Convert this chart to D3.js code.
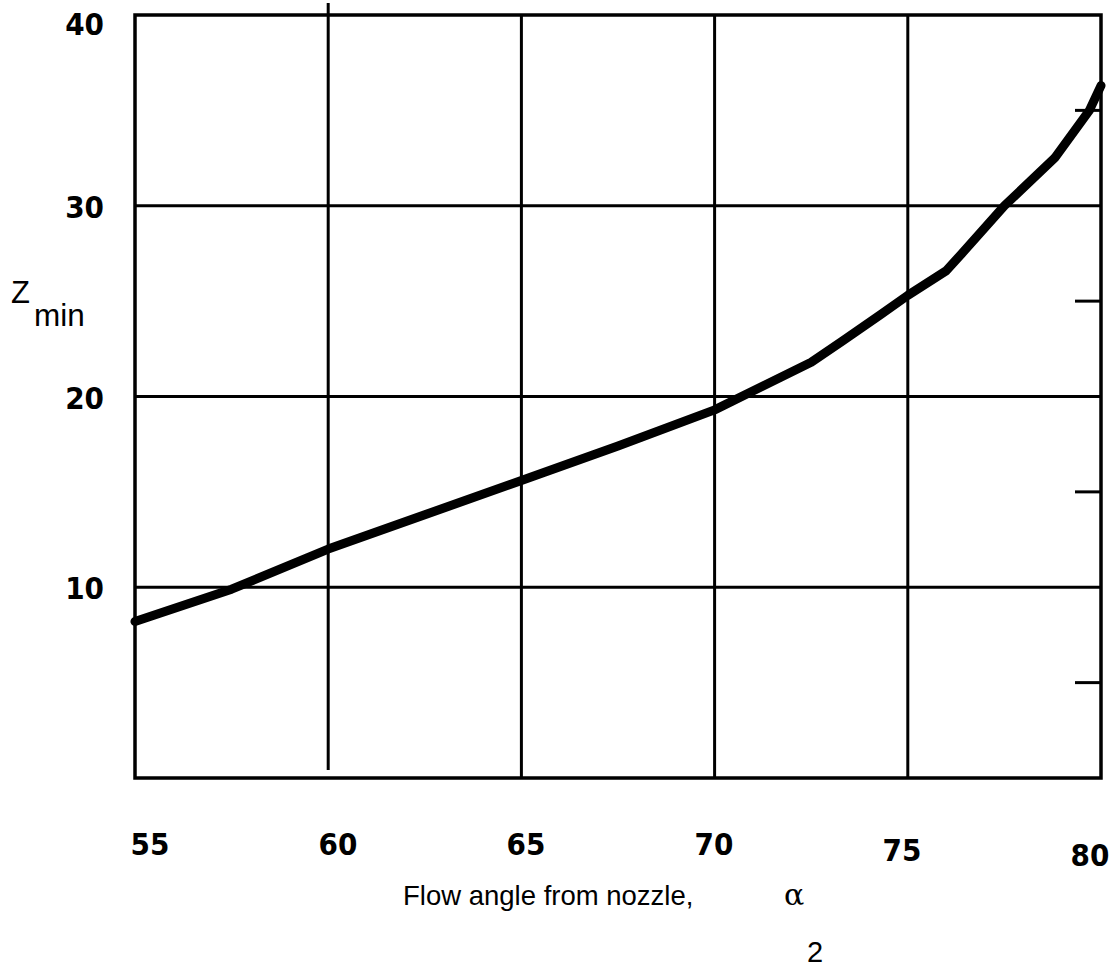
<!DOCTYPE html>
<html>
<head>
<meta charset="utf-8">
<script src="https://cdn.jsdelivr.net/npm/d3@7"></script>
<style>
  html, body { margin: 0; padding: 0; background: #fff; }
  svg { display: block; }
  .tick-label { font-family: "DejaVu Sans Condensed", "DejaVu Sans", sans-serif; font-stretch: condensed; font-weight: bold; font-size: 31px; fill: #000; }
  .title { font-family: "Liberation Sans", Arial, Helvetica, sans-serif; fill: #000; }
</style>
</head>
<body>
<svg id="chart" width="1117" height="968"></svg>
<script>
// ---- data ----
const angles = [55, 57.5, 60, 62.5, 65, 67.5, 70, 72.5, 73.3, 74.3, 75, 76, 76.4, 77.5, 78.8, 79.7, 80];
const zmin   = [8.2, 9.9, 12.0, 13.8, 15.6, 17.4, 19.3, 21.8, 22.9, 24.3, 25.3, 26.6, 27.5, 30.0, 32.5, 35.0, 36.3];
const xTicks = [55, 60, 65, 70, 75, 80];
const yTicks = [10, 20, 30, 40];
const yMinorTicks = [5, 15, 25, 35];
const xTitle = "Flow angle from nozzle,";
const yTitle = "Z";
const ySub = "min";

(function () {
// ---- layout ----
const mLeft = 135, mRight = 1101, mTop = 15, mBottom = 778;
const svg = d3.select("#chart");

const x = d3.scaleLinear().domain([55, 80]).range([mLeft, mRight]);
const y = d3.scaleLinear().domain([0, 40]).range([mBottom, mTop]);

// grid lines (vertical)
const gridV = svg.append("g").attr("stroke", "#000").attr("stroke-width", 3);
xTicks.filter(v => v > 55 && v < 80).forEach(v => {
  const y1 = v === 60 ? 3 : mTop;
  const y2 = v === 60 ? 770 : mBottom;
  gridV.append("line").attr("x1", x(v)).attr("x2", x(v)).attr("y1", y1).attr("y2", y2);
});
// grid lines (horizontal)
const gridH = svg.append("g").attr("stroke", "#000").attr("stroke-width", 3);
yTicks.filter(v => v > 0 && v < 40).forEach(v => {
  gridH.append("line").attr("x1", mLeft).attr("x2", mRight).attr("y1", y(v)).attr("y2", y(v));
});
// right-side minor ticks
yMinorTicks.forEach(v => {
  gridH.append("line").attr("x1", mRight - 26).attr("x2", mRight).attr("y1", y(v)).attr("y2", y(v));
});

// frame
svg.append("rect")
  .attr("x", mLeft).attr("y", mTop)
  .attr("width", mRight - mLeft).attr("height", mBottom - mTop)
  .attr("fill", "none").attr("stroke", "#000").attr("stroke-width", 3.5);

// curve
const line = d3.line()
  .x((d, i) => x(angles[i]))
  .y((d, i) => y(zmin[i]))
  .curve(d3.curveLinear);
svg.append("path")
  .datum(zmin)
  .attr("d", line)
  .attr("fill", "none")
  .attr("stroke", "#000")
  .attr("stroke-width", 9)
  .attr("stroke-linecap", "round")
  .attr("stroke-linejoin", "round");

// x tick labels
const xLabelPos = d3.scaleLinear().domain([55, 80]).range([150, 1090]);
xTicks.forEach(v => {
  svg.append("text")
    .attr("class", "tick-label")
    .attr("x", xLabelPos(v))
    .attr("y", 855 + Math.max(0, v - 70) * 1.1)
    .attr("text-anchor", "middle")
    .text(v);
});

// y tick labels
yTicks.forEach(v => {
  svg.append("text")
    .attr("class", "tick-label")
    .attr("x", 104)
    .attr("y", Math.max(y(v) + 1, 24))
    .attr("dy", "0.36em")
    .attr("text-anchor", "end")
    .text(v);
});

// y title  Z_min
svg.append("text").attr("class", "title")
  .attr("x", 11).attr("y", 303).attr("font-size", 31).text(yTitle);
svg.append("text").attr("class", "title")
  .attr("x", 34).attr("y", 326).attr("font-size", 31.5).text(ySub);

// x title
svg.append("text").attr("class", "title")
  .attr("x", 403).attr("y", 905).attr("font-size", 27.5).text(xTitle);
svg.append("text")
  .attr("x", 784).attr("y", 905)
  .attr("font-family", "'DejaVu Serif', 'Liberation Serif', serif")
  .attr("font-size", 30).text("α");
svg.append("text").attr("class", "title")
  .attr("x", 807).attr("y", 962).attr("font-size", 29).text("2");
})();
</script>
</body>
</html>
